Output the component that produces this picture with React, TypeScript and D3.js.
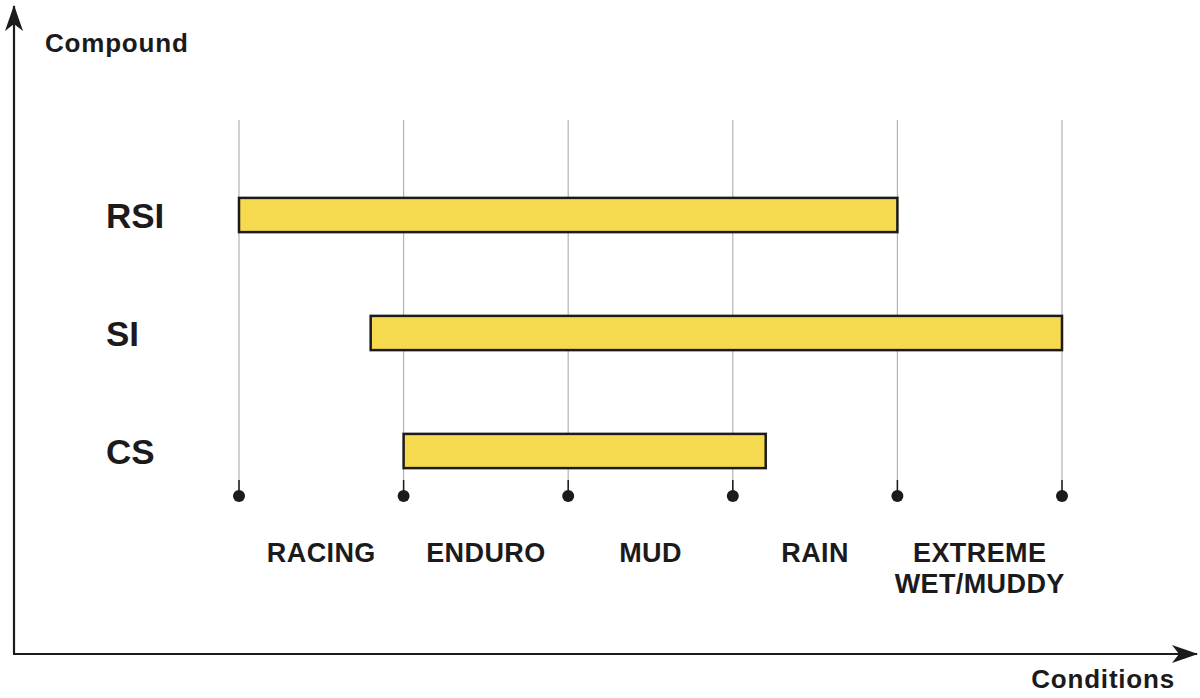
import { useEffect, useRef } from 'react'
import * as d3 from 'd3'

const compounds = ['RSI', 'SI', 'CS']
const barStart = [0, 0.8, 1]
const barEnd = [4, 5, 3.2]
const conditions = [['RACING'], ['ENDURO'], ['MUD'], ['RAIN'], ['EXTREME', 'WET/MUDDY']]
const tickValues = [0, 1, 2, 3, 4, 5]

export default function App() {
  const svgRef = useRef<SVGSVGElement>(null)

  useEffect(() => {
    if (!svgRef.current) return
    const svg = d3.select(svgRef.current)
    svg.selectAll('*').remove()

    const font = '"Liberation Sans", Arial, Helvetica, sans-serif'
    const ink = '#1c1a1b'

    const x = d3.scaleLinear().domain([0, 5]).range([239, 1062])
    const y = d3.scaleBand().domain(compounds).range([156, 510]).paddingInner(0.71).paddingOuter(0.355)

    const defs = svg.append('defs')
    defs
      .append('marker')
      .attr('id', 'arrow')
      .attr('viewBox', '0 0 26 18')
      .attr('refX', 25)
      .attr('refY', 9)
      .attr('markerWidth', 26)
      .attr('markerHeight', 18)
      .attr('markerUnits', 'userSpaceOnUse')
      .attr('orient', 'auto')
      .append('path')
      .attr('d', 'M0,0 L26,9 L0,18 L7,9 Z')
      .attr('fill', ink)

    // axes
    svg.append('line')
      .attr('x1', 14).attr('y1', 654).attr('x2', 14).attr('y2', 6)
      .attr('stroke', ink).attr('stroke-width', 2.2)
      .attr('marker-end', 'url(#arrow)')
    svg.append('line')
      .attr('x1', 13).attr('y1', 654).attr('x2', 1197).attr('y2', 654)
      .attr('stroke', ink).attr('stroke-width', 2.2)
      .attr('marker-end', 'url(#arrow)')

    svg.append('text')
      .attr('x', 45).attr('y', 52)
      .attr('font-family', font).attr('font-weight', 'bold').attr('font-size', 26)
      .attr('letter-spacing', 0.8)
      .attr('fill', ink).text('Compound')
    svg.append('text')
      .attr('x', 1175).attr('y', 688).attr('text-anchor', 'end')
      .attr('font-family', font).attr('font-weight', 'bold').attr('font-size', 26)
      .attr('letter-spacing', 0.8)
      .attr('fill', ink).text('Conditions')

    // grid lines
    svg.selectAll('.grid')
      .data(tickValues)
      .enter()
      .append('line')
      .attr('x1', (d) => x(d)).attr('x2', (d) => x(d))
      .attr('y1', 120).attr('y2', 495)
      .attr('stroke', '#b3b3b3').attr('stroke-width', 1.2)

    svg.selectAll('.stem')
      .data(tickValues)
      .enter()
      .append('line')
      .attr('x1', (d) => x(d)).attr('x2', (d) => x(d))
      .attr('y1', 480).attr('y2', 495)
      .attr('stroke', ink).attr('stroke-width', 1.5)
    svg.selectAll('.dot')
      .data(tickValues)
      .enter()
      .append('circle')
      .attr('cx', (d) => x(d)).attr('cy', 496).attr('r', 6)
      .attr('fill', ink)

    // bars
    svg.selectAll('.bar')
      .data(compounds)
      .enter()
      .append('rect')
      .attr('x', (_, i) => x(barStart[i]))
      .attr('width', (_, i) => x(barEnd[i]) - x(barStart[i]))
      .attr('y', (d) => y(d) || 0)
      .attr('height', y.bandwidth())
      .attr('fill', '#f5d94f')
      .attr('stroke', ink)
      .attr('stroke-width', 2.5)

    svg.selectAll('.clabel')
      .data(compounds)
      .enter()
      .append('text')
      .attr('x', 106)
      .attr('y', (d) => (y(d) || 0) + y.bandwidth() / 2)
      .attr('dy', '0.36em')
      .attr('font-family', font).attr('font-weight', 'bold').attr('font-size', 35)
      .attr('fill', ink)
      .text((d) => d)

    // condition labels
    const lbl = svg.selectAll('.cond')
      .data(conditions)
      .enter()
      .append('text')
      .attr('x', (_, i) => (x(i) + x(i + 1)) / 2)
      .attr('y', 562)
      .attr('text-anchor', 'middle')
      .attr('font-family', font).attr('font-weight', 'bold').attr('font-size', 27)
      .attr('letter-spacing', 0.4)
      .attr('fill', ink)
    lbl.selectAll('tspan')
      .data((d) => d)
      .enter()
      .append('tspan')
      .attr('x', function () {
        return (this as SVGTSpanElement).parentElement!.getAttribute('x')
      })
      .attr('dy', (_, j) => (j === 0 ? 0 : 31))
      .text((d) => d)
  }, [])

  return (
    <svg
      ref={svgRef}
      width={1200}
      height={698}
      viewBox="0 0 1200 698"
      style={{ position: 'absolute', left: 0, top: 0, background: '#fff' }}
    />
  )
}
